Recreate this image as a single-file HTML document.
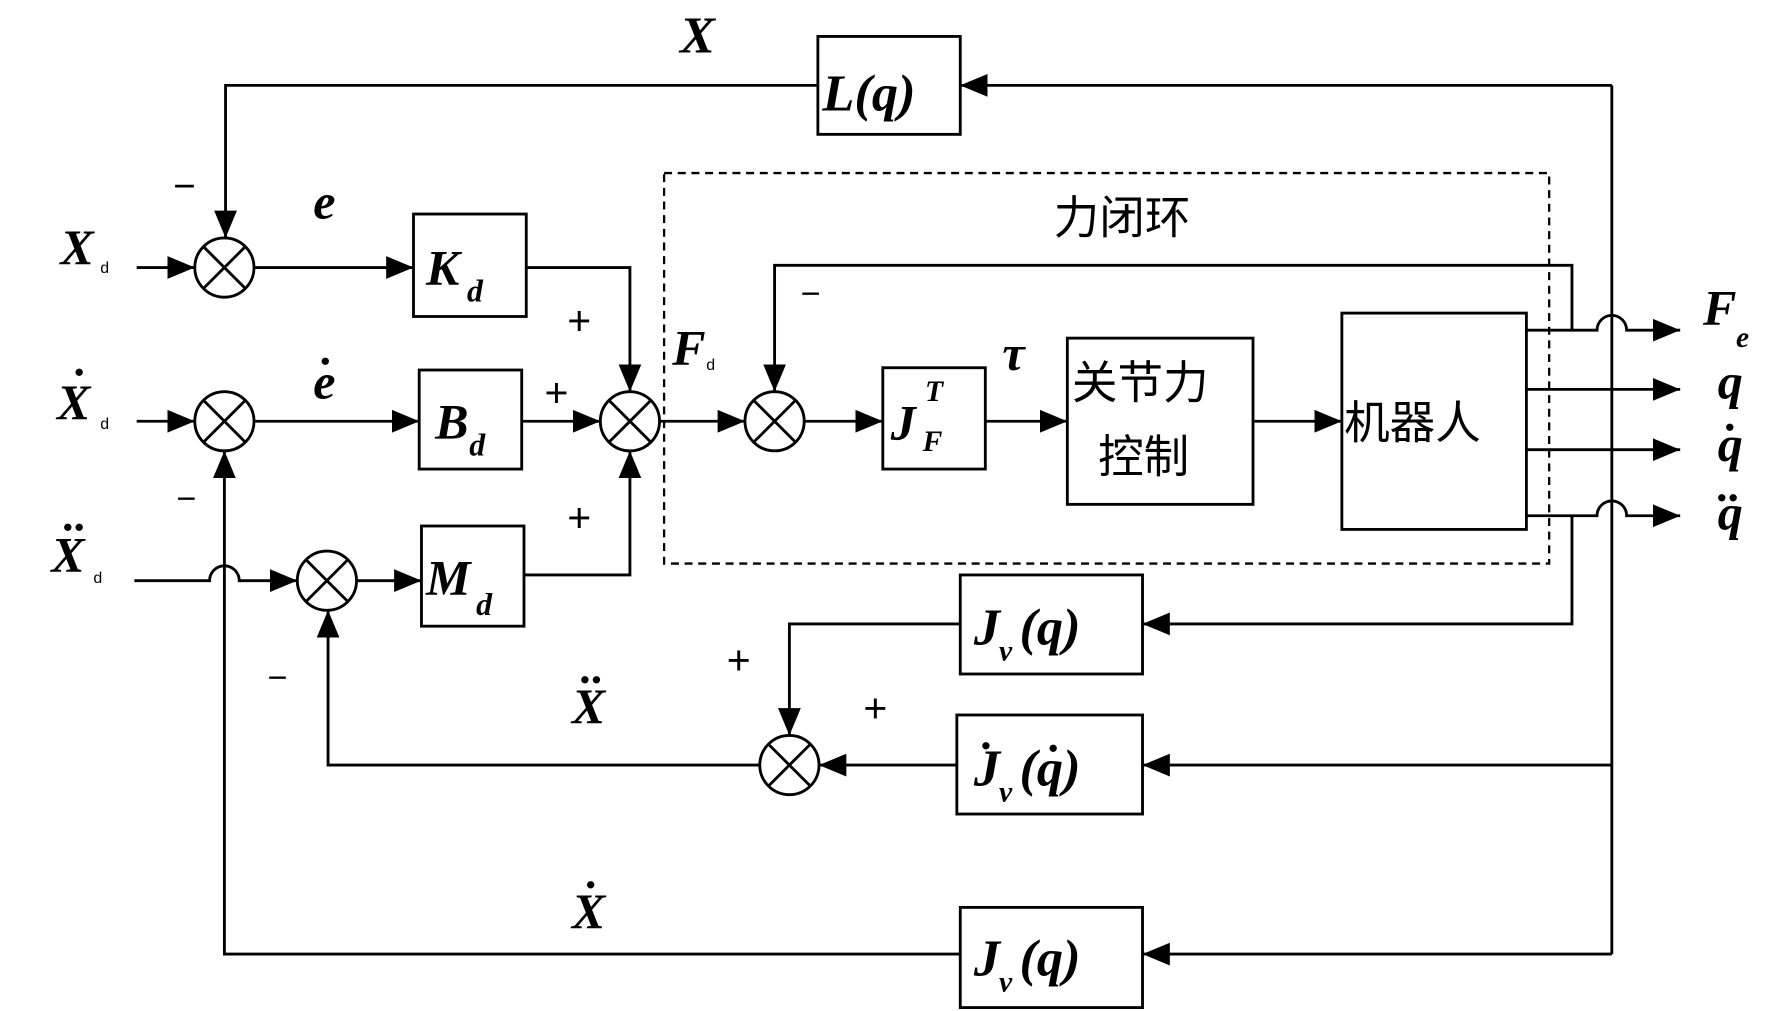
<!DOCTYPE html>
<html><head><meta charset="utf-8"><style>
html,body{margin:0;padding:0;background:#fff;}
svg{display:block}
.t{font-family:"Liberation Serif",serif;font-style:italic;font-weight:bold;fill:#000}
.c{font-family:"Liberation Sans","Noto Sans CJK SC",sans-serif;fill:#000}
.s{font-family:"Liberation Sans",sans-serif;fill:#000}
</style></head><body>
<svg width="1777" height="1011" viewBox="0 0 1560 888" preserveAspectRatio="none" xmlns="http://www.w3.org/2000/svg">
<defs>
<marker id="A" viewBox="0 0 24 24" markerWidth="24" markerHeight="24" refX="24" refY="12" orient="auto" markerUnits="userSpaceOnUse">
<path d="M0,2 L24,12 L0,22 z" fill="#000"/></marker>
</defs>
<g stroke="#000" stroke-width="2.5" fill="none">
<rect x="718" y="32" width="125" height="86"/>
<rect x="363" y="188" width="99" height="90"/>
<rect x="368" y="325" width="90" height="87"/>
<rect x="370" y="462" width="90" height="88"/>
<rect x="775" y="323" width="90" height="89"/>
<rect x="937" y="297" width="163" height="146"/>
<rect x="1178" y="275" width="162" height="190"/>
<rect x="843" y="505" width="160" height="87"/>
<rect x="840" y="628" width="163" height="87"/>
<rect x="843" y="797" width="160" height="88"/>
<rect x="583" y="152" width="777" height="343" stroke-dasharray="7,5" stroke-width="2"/>
<circle cx="197" cy="235" r="26"/><path d="M179,217 L215,253 M215,217 L179,253"/>
<circle cx="197" cy="370" r="26"/><path d="M179,352 L215,388 M215,352 L179,388"/>
<circle cx="287" cy="510" r="26"/><path d="M269,492 L305,528 M305,492 L269,528"/>
<circle cx="553" cy="370" r="26"/><path d="M535,352 L571,388 M571,352 L535,388"/>
<circle cx="680" cy="370" r="26"/><path d="M662,352 L698,388 M698,352 L662,388"/>
<circle cx="693" cy="672" r="26"/><path d="M675,654 L711,690 M711,654 L675,690"/>
<path d="M1415,75 L843,75" marker-end="url(#A)"/>
<path d="M718,75 L198,75 L198,209" marker-end="url(#A)"/>
<path d="M1415,75 L1415,838"/>
<path d="M120,235 L171,235" marker-end="url(#A)"/>
<path d="M120,370 L171,370" marker-end="url(#A)"/>
<path d="M118,510 L184,510 A13,13 0 0 1 210,510 L261,510" marker-end="url(#A)"/>
<path d="M223,235 L363,235" marker-end="url(#A)"/>
<path d="M223,370 L368,370" marker-end="url(#A)"/>
<path d="M313,510 L370,510" marker-end="url(#A)"/>
<path d="M462,235 L553,235 L553,344" marker-end="url(#A)"/>
<path d="M458,370 L527,370" marker-end="url(#A)"/>
<path d="M460,505 L553,505 L553,396" marker-end="url(#A)"/>
<path d="M579,370 L654,370" marker-end="url(#A)"/>
<path d="M706,370 L775,370" marker-end="url(#A)"/>
<path d="M865,370 L937,370" marker-end="url(#A)"/>
<path d="M1100,370 L1178,370" marker-end="url(#A)"/>
<path d="M1380,290 L1380,233 L680,233 L680,344" marker-end="url(#A)"/>
<path d="M1340,290 L1402,290 A13,13 0 0 1 1428,290 L1475,290" marker-end="url(#A)"/>
<path d="M1340,342 L1475,342" marker-end="url(#A)"/>
<path d="M1340,395 L1475,395" marker-end="url(#A)"/>
<path d="M1340,453 L1402,453 A13,13 0 0 1 1428,453 L1475,453" marker-end="url(#A)"/>
<path d="M1380,453 L1380,548 L1003,548" marker-end="url(#A)"/>
<path d="M843,548 L693,548 L693,646" marker-end="url(#A)"/>
<path d="M1415,672 L1003,672" marker-end="url(#A)"/>
<path d="M840,672 L719,672" marker-end="url(#A)"/>
<path d="M667,672 L288,672 L288,536" marker-end="url(#A)"/>
<path d="M1415,838 L1003,838" marker-end="url(#A)"/>
<path d="M843,838 L197,838 L197,396" marker-end="url(#A)"/>
</g>
<text class="t" x="597" y="46" font-size="46">X</text>
<text class="t" x="722" y="97" font-size="46">L(q)</text>
<text class="t" x="53" y="232" font-size="44">X</text><text class="s" x="88" y="240" font-size="14">d</text>
<text class="t" x="50" y="368" font-size="44">X</text><text class="s" x="88" y="377" font-size="14">d</text>
<text class="t" x="66" y="330" font-size="40">.</text>
<text class="t" x="45" y="502" font-size="44">X</text><text class="s" x="82" y="512" font-size="14">d</text>
<text class="t" x="56" y="466" font-size="40">..</text>
<text class="t" x="275" y="192" font-size="44">e</text>
<text class="t" x="275" y="350" font-size="44">e</text><text class="t" x="282" y="320" font-size="40">.</text>
<text class="t" x="374" y="250" font-size="44">K</text><text class="t" x="410" y="265" font-size="28">d</text>
<text class="t" x="382" y="385" font-size="44">B</text><text class="t" x="412" y="400" font-size="28">d</text>
<text class="t" x="374" y="522" font-size="44">M</text><text class="t" x="418" y="540" font-size="28">d</text>
<text class="s" x="498" y="294" font-size="36">+</text>
<text class="s" x="478" y="357" font-size="36">+</text>
<text class="s" x="498" y="467" font-size="36">+</text>
<text class="s" x="152" y="175" font-size="34">−</text>
<text class="s" x="155" y="448" font-size="30">−</text>
<text class="s" x="235" y="605" font-size="30">−</text>
<text class="t" x="590" y="320" font-size="44">F</text><text class="s" x="620" y="325" font-size="14">d</text>
<text class="c" x="925" y="205" font-size="40">力闭环</text>
<text class="s" x="703" y="268" font-size="30">−</text>
<text class="t" x="782" y="386" font-size="44">J</text><text class="t" x="812" y="352" font-size="26">T</text><text class="t" x="810" y="396" font-size="26">F</text>
<text class="t" x="880" y="325" font-size="44">τ</text>
<text class="c" x="941" y="350" font-size="40">关节力</text>
<text class="c" x="964" y="415" font-size="40">控制</text>
<text class="c" x="1180" y="385" font-size="40">机器人</text>
<text class="t" x="1495" y="285" font-size="44">F</text><text class="t" x="1524" y="305" font-size="26">e</text>
<text class="t" x="1508" y="350" font-size="44">q</text>
<text class="t" x="1508" y="405" font-size="44">q</text><text class="t" x="1515" y="378" font-size="40">.</text>
<text class="t" x="1508" y="465" font-size="44">q</text><text class="t" x="1508" y="440" font-size="40">..</text>
<text class="t" x="855" y="566" font-size="46">J</text><text class="t" x="877" y="580" font-size="26">v</text><text class="t" x="895" y="566" font-size="46">(q)</text>
<text class="t" x="855" y="690" font-size="46">J</text><text class="t" x="877" y="704" font-size="26">v</text><text class="t" x="895" y="690" font-size="46">(q)</text>
<text class="t" x="862" y="658" font-size="40">.</text><text class="t" x="921" y="660" font-size="40">.</text>
<text class="t" x="855" y="857" font-size="46">J</text><text class="t" x="877" y="871" font-size="26">v</text><text class="t" x="895" y="857" font-size="46">(q)</text>
<text class="s" x="638" y="592" font-size="36">+</text>
<text class="s" x="758" y="634" font-size="36">+</text>
<text class="t" x="502" y="635" font-size="44">X</text><text class="t" x="510" y="600" font-size="40">..</text>
<text class="t" x="502" y="815" font-size="44">X</text><text class="t" x="515" y="780" font-size="40">.</text>
</svg>
</body></html>
